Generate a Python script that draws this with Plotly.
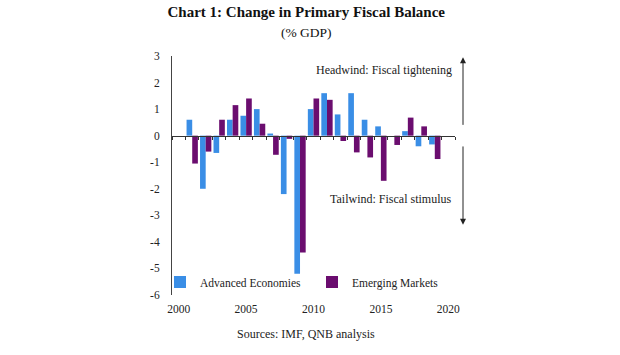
import plotly.graph_objects as go

years = list(range(2001, 2020))
advanced = [0.6, -2.0, -0.65, 0.6, 0.75, 1.0, 0.08, -2.2, -5.2, 1.0,
            1.6, 0.8, 1.6, 0.6, 0.35, 0.0, 0.17, -0.4, -0.33]
emerging = [-1.05, -0.6, 0.6, 1.15, 1.4, 0.45, -0.72, -0.12, -4.4, 1.4,
            1.35, -0.2, -0.63, -0.82, -1.7, -0.35, 0.68, 0.35, -0.88]
ytickvals = [3, 2, 1, 0, -1, -2, -3, -4, -5, -6]
yticktext = ["3", "2", "1", "0", "-1", "-2", "-3", "-4", "-5", "-6"]
xtickvals = [2000, 2005, 2010, 2015, 2020]

BLUE = "#3a8ee6"
PURPLE = "#6b0d6f"
SERIF = "Liberation Serif, Times New Roman, serif"

fig = go.Figure()
fig.add_trace(go.Bar(x=years, y=advanced, name="Advanced Economies",
                     marker=dict(color=BLUE, line=dict(width=0))))
fig.add_trace(go.Bar(x=years, y=emerging, name="Emerging Markets",
                     marker=dict(color=PURPLE, line=dict(width=0))))

L, R, T, B = 172, 455, 56, 295
W, H = 620, 355

fig.update_layout(
    width=W, height=H,
    margin=dict(l=L, r=W - R, t=T, b=H - B, pad=0),
    paper_bgcolor="white", plot_bgcolor="white",
    barmode="group", bargap=0.16, bargroupgap=0,
    font=dict(family=SERIF, size=12, color="#222"),
    title=dict(text="<b>Chart 1: Change in Primary Fiscal Balance</b><br><span style='font-size:13.5px'>(% GDP)</span>",
               x=0.494, xanchor="center", xref="container",
               y=1 - 17 / H, yanchor="top", yref="container",
               font=dict(family=SERIF, size=15, color="#111")),
    xaxis=dict(range=[1999.5, 2020.5], tickvals=xtickvals, showline=False,
               showgrid=False, zeroline=False, ticks="outside", ticklen=3,
               tickcolor="rgba(0,0,0,0)",
               tickfont=dict(family=SERIF, size=11.5, color="#222")),
    xaxis2=dict(overlaying="x", anchor="free", position=2 / 3,
                range=[1999.5, 2020.5], tick0=1999.5, dtick=1,
                showticklabels=False, ticks="outside", ticklen=3,
                tickcolor="#333", showline=True, linecolor="#333",
                linewidth=1, showgrid=False, zeroline=False),
    yaxis=dict(range=[-6, 3], tickvals=ytickvals, ticktext=yticktext,
               showline=True, linecolor="#444", linewidth=1,
               showgrid=False, zeroline=False, ticks="outside", ticklen=9,
               tickcolor="rgba(0,0,0,0)",
               tickfont=dict(family=SERIF, size=11.5, color="#222")),
    legend=dict(orientation="h", x=(160 - L) / (R - L), xanchor="left",
                y=(B - 282) / (B - T), yanchor="middle",
                bgcolor="rgba(0,0,0,0)", entrywidth=107,
                font=dict(family=SERIF, size=11.5, color="#222"),
                itemclick=False),
    showlegend=True,
)

fig.add_trace(go.Scatter(x=[1999.5, 2020.5], y=[None, None], xaxis="x2",
                         showlegend=False, hoverinfo="skip"))

arrow_x = (463 - L) / (R - L)
fig.add_annotation(xref="x domain", yref="y", x=arrow_x, y=2.95,
                   ax=arrow_x, ay=0.35, axref="x domain", ayref="y",
                   showarrow=True, arrowhead=2, arrowsize=1.2, arrowwidth=1,
                   arrowcolor="#222", text="")
fig.add_annotation(xref="x domain", yref="y", x=arrow_x, y=-3.35,
                   ax=arrow_x, ay=-0.35, axref="x domain", ayref="y",
                   showarrow=True, arrowhead=2, arrowsize=1.2, arrowwidth=1,
                   arrowcolor="#222", text="")
fig.add_annotation(xref="paper", yref="paper", x=(454 - L) / (R - L),
                   y=(B - 70) / (B - T), xanchor="right", yanchor="middle",
                   showarrow=False, text="Headwind: Fiscal tightening",
                   font=dict(family=SERIF, size=12, color="#222"))
fig.add_annotation(xref="paper", yref="paper", x=(453 - L) / (R - L),
                   y=(B - 199) / (B - T), xanchor="right", yanchor="middle",
                   showarrow=False, text="Tailwind: Fiscal stimulus",
                   font=dict(family=SERIF, size=12, color="#222"))
fig.add_annotation(xref="paper", yref="paper", x=(306 - L) / (R - L),
                   y=(B - 334) / (B - T), xanchor="center", yanchor="middle",
                   showarrow=False, text="Sources: IMF, QNB analysis",
                   font=dict(family=SERIF, size=12, color="#222"))

fig.write_html("out.html", config={"displayModeBar": False},
               post_script="document.body.style.margin='0px';document.body.style.overflow='hidden';")
